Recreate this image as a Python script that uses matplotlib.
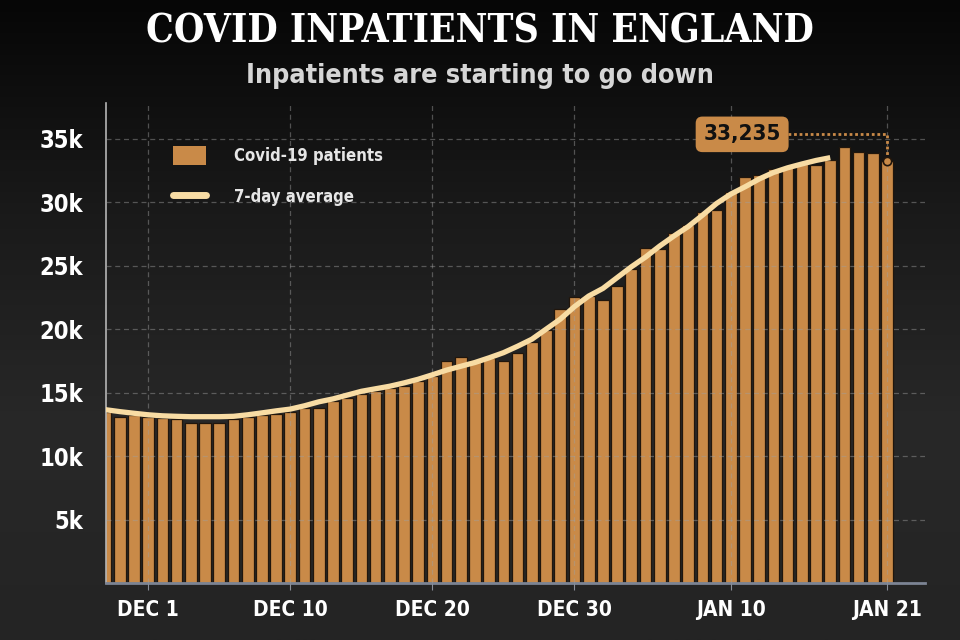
import matplotlib.pyplot as plt
import numpy as np
from matplotlib.patches import Patch
from matplotlib.lines import Line2D
from matplotlib.colors import LinearSegmentedColormap

# Daily Covid-19 inpatients in England, one bar per day (Nov 27 - Jan 21)
patients = [13500, 13070, 13250, 13100, 13000, 12950, 12640, 12640, 12640, 12950,
            13050, 13200, 13350, 13500, 13750, 13800, 14300, 14600, 14900, 15150,
            15350, 15500, 15900, 16300, 17450, 17800, 17600, 17700, 17450, 18100,
            19000, 19950, 21600, 22500, 22600, 22300, 23400, 24700, 26400, 26300,
            27600, 28200, 29200, 29400, 30800, 32000, 32100, 32600, 32800, 33000,
            32900, 33300, 34300, 33950, 33900, 33235]
# 7-day average (it stops four days before the last bar)
avg7 = [13650, 13500, 13370, 13250, 13170, 13130, 13100, 13100, 13100, 13130,
        13250, 13400, 13560, 13700, 13960, 14270, 14500, 14800, 15100, 15300,
        15500, 15760, 16050, 16400, 16770, 17070, 17370, 17740, 18140, 18650,
        19200, 19990, 20780, 21770, 22600, 23200, 24050, 24900, 25670, 26540,
        27330, 28070, 28960, 29890, 30630, 31200, 31820, 32330, 32700, 33000,
        33280, 33500]

tick_days = [3, 13, 23, 33, 44, 55]
tick_labels = ['DEC 1', 'DEC 10', 'DEC 20', 'DEC 30', 'JAN 10', 'JAN 21']
y_ticks = [5000, 10000, 15000, 20000, 25000, 30000, 35000]
y_labels = ['5k', '10k', '15k', '20k', '25k', '30k', '35k']

BAR = '#c98a48'
EDGE = '#21160c'
LINE = '#f8dca4'

# condensed bold sans for all chart text
plt.rcParams['font.family'] = ['DejaVu Sans']
plt.rcParams['font.stretch'] = 'condensed'
plt.rcParams['font.weight'] = 'bold'

fig = plt.figure(figsize=(9.6, 6.4), dpi=100)

# dark background, blacker at the top behind the title
bg = fig.add_axes([0, 0, 1, 1], zorder=0)
cmap = LinearSegmentedColormap.from_list('bg', ['#060606', '#1a1a1a', '#282828', '#242424'])
bg.imshow(np.linspace(0, 1, 256)[:, None], cmap=cmap, aspect='auto',
          extent=[0, 1, 0, 1], origin='upper')
bg.axis('off')

ax = fig.add_axes([0.110, 0.089, 0.854, 0.75], zorder=1)
ax.patch.set_alpha(0)

days = np.arange(len(patients))
ax.bar(days, patients, width=0.82, color=BAR, edgecolor=EDGE, linewidth=0.9, zorder=1)
ax.plot(days[:len(avg7)], avg7, color=LINE, lw=3.8, solid_capstyle='butt', zorder=3)

ax.set_xlim(0, 57.7)
ax.set_ylim(0, 37800)
ax.set_xticks(tick_days)
ax.set_xticklabels(tick_labels)
ax.set_yticks(y_ticks)
ax.set_yticklabels(y_labels)
ax.tick_params(axis='x', length=5, color='#8a8f99', pad=7, labelsize=15, labelcolor='white')
ax.tick_params(axis='y', length=0, pad=16, labelsize=17, labelcolor='white')

ax.grid(True, ls=(0, (4, 3)), color='#a0a0a0', alpha=0.45, lw=0.9)
ax.set_axisbelow(False)
for side in ['top', 'right']:
    ax.spines[side].set_visible(False)
ax.spines['left'].set_color('#b5b5b5')
ax.spines['left'].set_linewidth(1.2)
ax.spines['bottom'].set_color('#7c8494')
ax.spines['bottom'].set_linewidth(2)

# label for the latest value, with dotted leader down to the bar
last = days[-1]
last_val = patients[-1]
lab_y = last_val + 2100
ax.plot([last - 7, last, last], [lab_y, lab_y, last_val], ls=(0, (1, 1)),
        color=BAR, lw=2, zorder=4)
ax.plot(last, last_val, 'o', ms=6, mfc=BAR, mec=EDGE, mew=1.2, zorder=5)
ax.text(last - 10.2, lab_y, f'{last_val:,}', ha='center', va='center',
        fontsize=16, color='#111111', zorder=6,
        bbox=dict(boxstyle='round,pad=0.35,rounding_size=0.3', fc=BAR, ec='none'))

handles = [Patch(facecolor=BAR, edgecolor='none'),
           Line2D([0], [0], color=LINE, lw=5, solid_capstyle='round')]
ax.legend(handles, ['Covid-19 patients', '7-day average'], loc='upper left',
          bbox_to_anchor=(0.082, 0.91), frameon=False, fontsize=12,
          labelcolor='#e6e6e6', handlelength=2.0, handleheight=1.4,
          handletextpad=1.7, labelspacing=1.3, borderpad=0, borderaxespad=0)

fig.text(0.5, 0.933, 'COVID INPATIENTS IN ENGLAND', ha='center', va='baseline',
         fontsize=28, color='white', family=['DejaVu Serif'], weight='bold',
         fontstretch='condensed')
fig.text(0.5, 0.870, 'Inpatients are starting to go down', ha='center', va='baseline',
         fontsize=19.3, color='#d6d6d6')

plt.savefig('out.png', dpi=100)
